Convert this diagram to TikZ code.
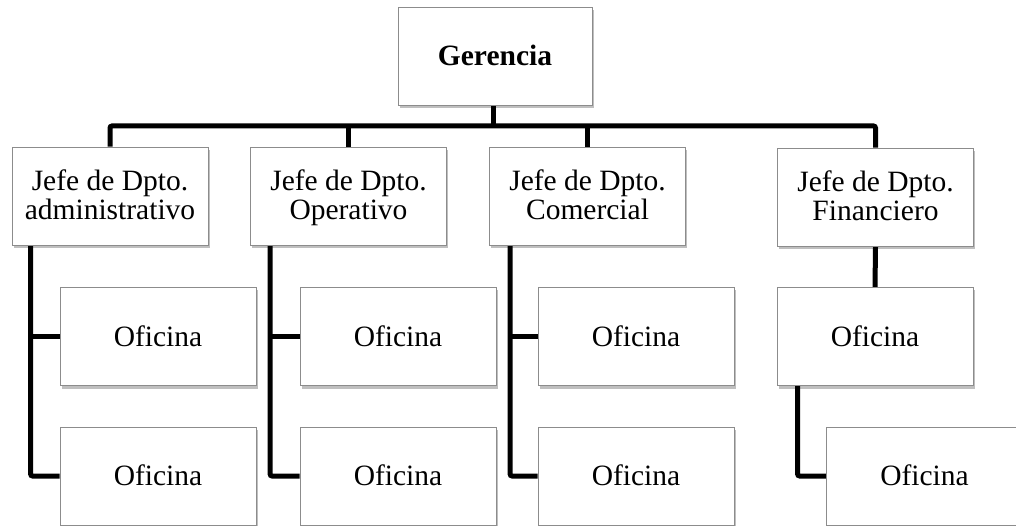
\documentclass[tikz,border=0pt]{standalone}
\usepackage{fontspec}
\setmainfont{Liberation Serif}
\usetikzlibrary{shadows,backgrounds}
\newcommand\orgstrut{\rule[-7pt]{0pt}{33pt}}
\newcommand\orgfont{\fontsize{29.5}{29}\selectfont\lineskiplimit=-100pt\relax\lineskip=0pt\relax}
\begin{document}
\begin{tikzpicture}[x=1pt,y=-1pt,
  orgbox/.style={draw=black!45, line width=0.8pt, fill=white, minimum width=196pt, minimum height=98pt,
    inner sep=0pt, align=center, font=\orgfont,
    drop shadow={shadow xshift=1.5pt, shadow yshift=-3pt, opacity=0.25, fill=black}},
  conn/.style={line width=5pt, black, rounded corners=2pt}]
\useasboundingbox (0,0) rectangle (1016,526);
\node[orgbox, minimum width=194pt] (ger) at (495,56) {\orgstrut\textbf{Gerencia}};
\node[orgbox] (j1) at (110,196) {\orgstrut Jefe de Dpto.\\administrativo\orgstrut};
\node[orgbox] (j2) at (348.5,196) {\orgstrut Jefe de Dpto.\\Operativo\orgstrut};
\node[orgbox] (j3) at (587.5,196) {\orgstrut Jefe de Dpto.\\Comercial\orgstrut};
\node[orgbox] (j4) at (875.5,197) {\orgstrut Jefe de Dpto.\\Financiero\orgstrut};
\node[orgbox] (o11) at (158,336.5) {\orgstrut Oficina};
\node[orgbox] (o12) at (158,476) {\orgstrut Oficina};
\node[orgbox] (o21) at (398,336.5) {\orgstrut Oficina};
\node[orgbox] (o22) at (398,476) {\orgstrut Oficina};
\node[orgbox] (o31) at (636,336.5) {\orgstrut Oficina};
\node[orgbox] (o32) at (636,476) {\orgstrut Oficina};
\node[orgbox] (o41) at (875,336.5) {\orgstrut Oficina};
\node[orgbox] (o42) at (924.5,476) {\orgstrut Oficina};
\coordinate (bar) at (0,126);
\coordinate (s1) at ([xshift=19pt]j1.south west);
\coordinate (s2) at ([xshift=20pt]j2.south west);
\coordinate (s3) at ([xshift=21pt]j3.south west);
\coordinate (s4) at ([xshift=21pt]o41.south west);
\begin{scope}[on background layer]
\draw[conn] ([xshift=-2pt]ger.south) -- ([xshift=-2pt]ger.south |- bar);
\draw[conn] (j1.north) -- (j1.north |- bar) -- (j4.north |- bar) -- (j4.north);
\draw[conn] (j2.north) -- (j2.north |- bar);
\draw[conn] (j3.north) -- (j3.north |- bar);
\draw[conn] (s1) |- (o12.west);
\draw[conn] (s1 |- o11.west) -- (o11.west);
\draw[conn] (s2) |- (o22.west);
\draw[conn] (s2 |- o21.west) -- (o21.west);
\draw[conn] (s3) |- (o32.west);
\draw[conn] (s3 |- o31.west) -- (o31.west);
\draw[conn] (j4.south) -- (o41.north);
\draw[conn] (s4) |- (o42.west);
\end{scope}
\end{tikzpicture}
\end{document}
